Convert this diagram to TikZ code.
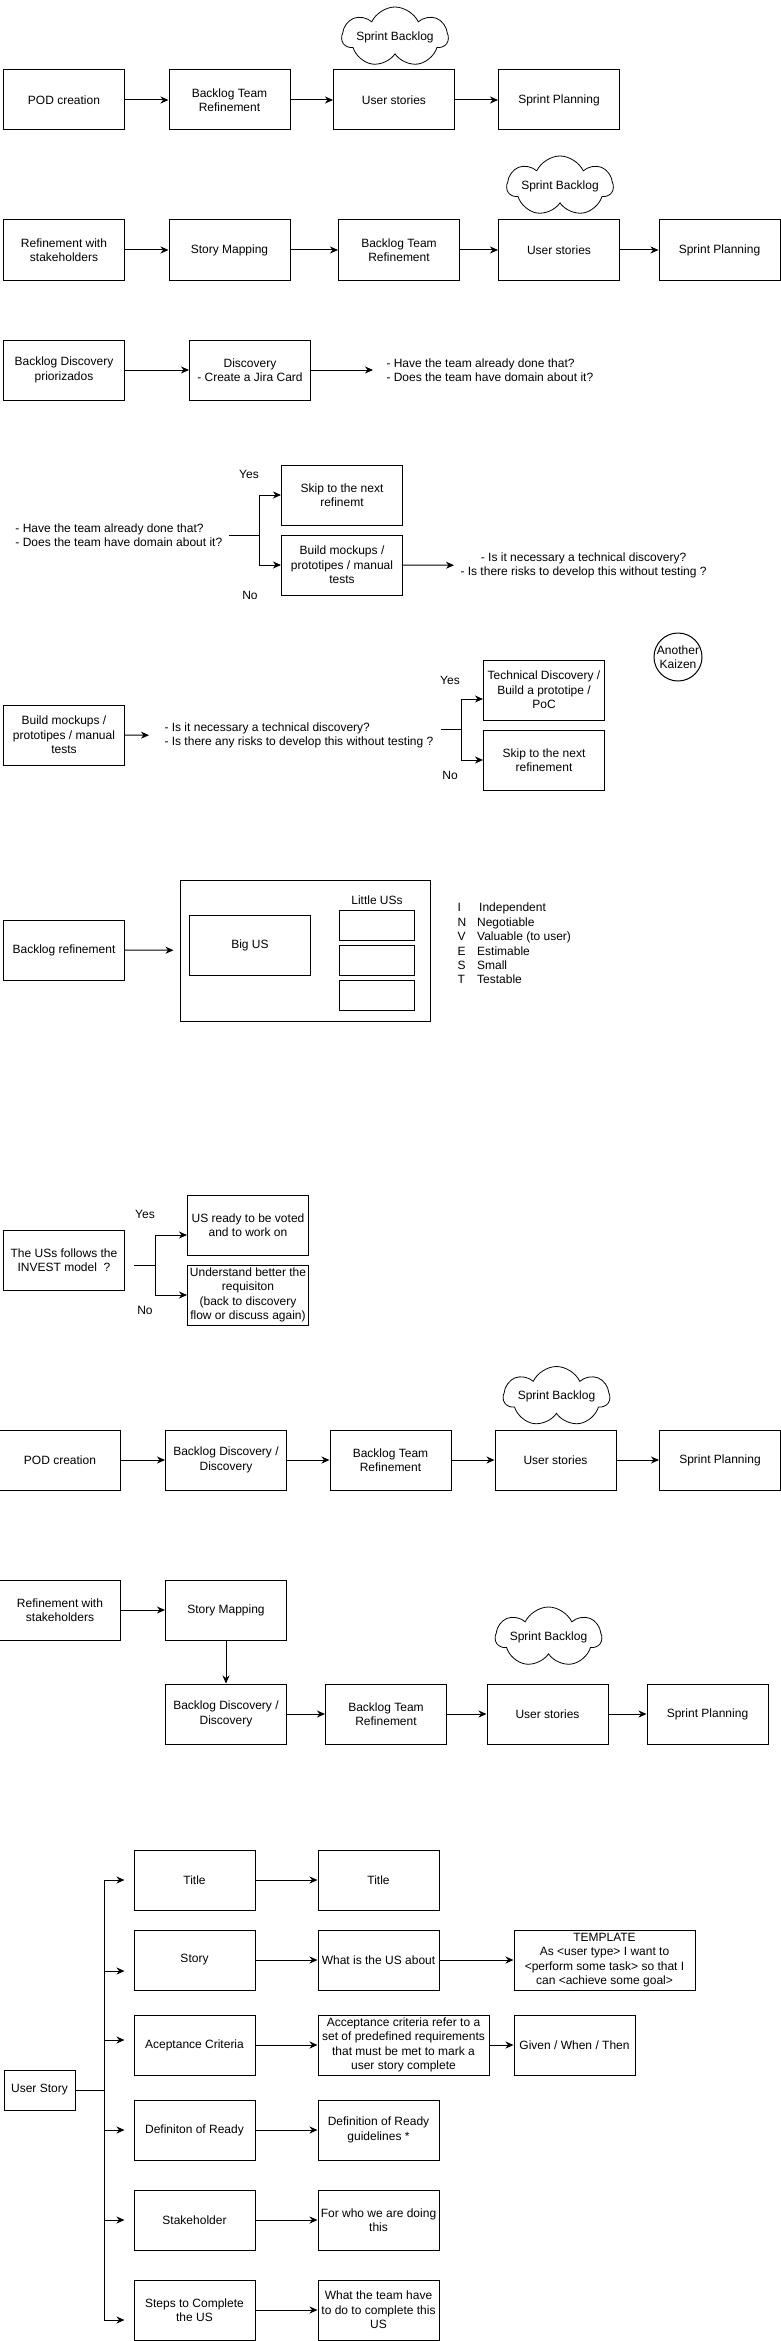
\documentclass[tikz,border=0pt]{standalone}
\usepackage{fontspec}
\setmainfont{Liberation Sans}
\usepackage{tikz}
\usetikzlibrary{arrows.meta, shapes.symbols}

\newcommand{\cloudtext}[1]{\makebox[40pt][c]{#1}}

\begin{document}
\begin{tikzpicture}[x=1pt, y=-1pt, line width=1pt,
		font=\fontsize{12}{14.4}\selectfont,
		box/.style={draw, minimum width=121pt, minimum height=60pt, align=center, inner sep=2pt},
		cloudy/.style={draw, cloud, cloud puffs=7, cloud puff arc=130, aspect=1.8, minimum width=106pt, minimum height=60pt, inner sep=0pt, line width=0.8pt},
		arr/.style={-{Stealth[length=8pt, width=7pt, inset=2.5pt]}}]
		\useasboundingbox[fill=white] (0,0) rectangle (780,2341);

		% Flow 1
		\node[box] (pod1) at (64,100) {POD creation};
		\node[box] (btr1) at (229.5,100) {Backlog Team\\Refinement};
		\node[box] (us1) at (394,100) {User stories};
		\node[box] (sp1) at (559,100) {Sprint Planning};
		\node[cloudy] (sb1) at (395,37) {\cloudtext{Sprint Backlog}};
		\draw[arr] (pod1) -- (btr1);
		\draw[arr] (btr1) -- (us1);
		\draw[arr] (us1) -- (sp1);

		% Flow 2
		\node[box] (rws2) at (64,250) {Refinement with\\stakeholders};
		\node[box] (sm2) at (229.5,250) {Story Mapping};
		\node[box] (btr2) at (399,250) {Backlog Team\\Refinement};
		\node[box] (us2) at (559,250) {User stories};
		\node[box] (sp2) at (719.5,250) {Sprint Planning};
		\node[cloudy] (sb2) at (560,186) {\cloudtext{Sprint Backlog}};
		\draw[arr] (rws2) -- (sm2);
		\draw[arr] (sm2) -- (btr2);
		\draw[arr] (btr2) -- (us2);
		\draw[arr] (us2) -- (sp2);

		% Discovery
		\node[box] (bd3) at (64,370) {Backlog Discovery\\priorizados};
		\node[box] (disc3) at (250,370) {Discovery\\- Create a Jira Card};
		\node[anchor=west, align=left, inner xsep=13pt] (q3) at (373,370) {- Have the team already done that?\\- Does the team have domain about it?};
		\draw[arr] (bd3) -- (disc3);
		\draw[arr] (disc3) -- (q3);

		% Decision: domain
		\node[anchor=west, align=left, inner sep=6pt] (q4) at (9,535.5) {- Have the team already done that?\\- Does the team have domain about it?};
		\coordinate (j4) at (259,535.5);
		\node[box] (skip4) at (342,495) {Skip to the next\\refinemt};
		\node[box] (build4) at (342,565) {Build mockups /\\prototipes / manual\\tests};
		\node (yes4) at (249,474) {Yes};
		\node (no4) at (250,595) {No};
		\node[anchor=west, align=center, inner sep=6pt] (q4b) at (454,565.5) {- Is it necessary a technical discovery?\\- Is there risks to develop this without testing ?};
		\draw (q4) -- (j4);
		\draw[arr] (j4) |- (skip4.west);
		\draw[arr] (j4) |- (build4.west);
		\draw[arr] (build4) -- (q4b);

		% Decision: technical discovery
		\node[box] (build5) at (64,735) {Build mockups /\\prototipes / manual\\tests};
		\node[anchor=west, align=left, inner xsep=15pt] (q5) at (149,735.5) {- Is it necessary a technical discovery?\\- Is there any risks to develop this without testing ?};
		\coordinate (s5) at (441,729);
		\coordinate (j5) at (461,729);
		\node[box] (tech5) at (544,690) {Technical Discovery /\\Build a prototipe /\\PoC};
		\node[box] (skip5) at (544,760) {Skip to the next\\refinement};
		\node (yes5) at (450,680) {Yes};
		\node (no5) at (450,775) {No};
		\node[draw, circle, minimum size=48pt, inner sep=-3pt, align=center] (kz5) at (678,657) {Another\\Kaizen};
		\draw[arr] (build5) -- (q5);
		\draw (s5) -- (j5);
		\draw[arr] (j5) |- ([yshift=-9pt]tech5.west);
		\draw[arr] (j5) |- (skip5.west);

		% Splitting
		\node[box] (brf6) at (64,950) {Backlog refinement};
		\node[draw, minimum width=250pt, minimum height=141pt] (grp6) at (305,950.5) {};
		\node[box] (big6) at (250,945.5) {Big US};
		\node (lbl6) at (377,900) {Little USs};
		\node[draw, minimum width=75pt, minimum height=30pt] (ls6a) at (376.5,925) {};
		\node[draw, minimum width=75pt, minimum height=30pt] (ls6b) at (376.5,960) {};
		\node[draw, minimum width=75pt, minimum height=30pt] (ls6c) at (376.5,995) {};
		\node[anchor=west, inner sep=6pt] (inv6) at (451,945) {\begin{tabular}{@{}l@{\hspace{11pt}}l@{}}
			I & \hspace{2pt}Independent\\
			N & Negotiable\\
			V & Valuable (to user)\\
			E & Estimable\\
			S & Small\\
			T & Testable
		\end{tabular}};
		\draw[arr, shorten >=6pt] (brf6) -- (grp6);

		% INVEST check
		\node[box] (inv7) at (64,1260) {The USs follows the\\INVEST model\ \ ?};
		\coordinate (s7) at (134,1265);
		\coordinate (j7) at (155,1265);
		\node[box] (ready7) at (248,1225) {US ready to be voted\\and to work on};
		\node[box] (und7) at (248,1295) {Understand better the\\requisiton\\(back to discovery\\flow or discuss again)};
		\node (yes7) at (145,1214) {Yes};
		\node (no7) at (145,1310) {No};
		\draw (s7) -- (j7);
		\draw[arr] (j7) |- ([yshift=-10pt]ready7.west);
		\draw[arr] (j7) |- (und7.west);

		% Flow 3
		\node[box] (pod8) at (60,1460) {POD creation};
		\node[box] (bdd8) at (226,1460) {Backlog Discovery /\\Discovery};
		\node[box] (btr8) at (390.5,1460) {Backlog Team\\Refinement};
		\node[box] (us8) at (555.5,1460) {User stories};
		\node[box] (sp8) at (720,1460) {Sprint Planning};
		\node[cloudy] (sb8) at (556.5,1396.5) {\cloudtext{Sprint Backlog}};
		\draw[arr] (pod8) -- (bdd8);
		\draw[arr] (bdd8) -- (btr8);
		\draw[arr] (btr8) -- (us8);
		\draw[arr] (us8) -- (sp8);

		% Flow 4
		\node[box] (rws9) at (60,1610) {Refinement with\\stakeholders};
		\node[box] (sm9) at (226,1610) {Story Mapping};
		\node[box] (bdd9) at (226,1714) {Backlog Discovery /\\Discovery};
		\node[box] (btr9) at (386,1714) {Backlog Team\\Refinement};
		\node[box] (us9) at (547.5,1714) {User stories};
		\node[box] (sp9) at (707.5,1714) {Sprint Planning};
		\node[cloudy] (sb9) at (548.5,1637) {\cloudtext{Sprint Backlog}};
		\draw[arr] (rws9) -- (sm9);
		\draw[arr] (sm9) -- (bdd9);
		\draw[arr] (bdd9) -- (btr9);
		\draw[arr] (btr9) -- (us9);
		\draw[arr] (us9) -- (sp9);

		% User story
		\node[draw, minimum width=71pt, minimum height=40pt] (us10) at (39.5,2090) {User Story};
		\coordinate (t10) at (104,2090);
		\node[box] (title10) at (194.5,1880) {Title};
		\node[box] (story10) at (194.5,1960) {Story};
		\node[box] (acc10) at (194.5,2045) {Aceptance Criteria};
		\node[box] (dor10) at (194.5,2130) {Definiton of Ready};
		\node[box] (stk10) at (194.5,2220) {Stakeholder};
		\node[box] (steps10) at (194.5,2310) {Steps to Complete\\the US};
		\node[box] (titled10) at (378.5,1880) {Title};
		\node[box] (what10) at (378.5,1960) {What is the US about};
		\node[box, minimum width=171pt] (accd10) at (403.5,2045) {Acceptance criteria refer to a\\set of predefined requirements\\that must be met to mark a\\user story complete};
		\node[box] (dord10) at (378.5,2130) {Definition of Ready\\guidelines *};
		\node[box] (stkd10) at (378.5,2220) {For who we are doing\\this};
		\node[box] (stepsd10) at (378.5,2310) {What the team have\\to do to complete this\\US};
		\node[box, minimum width=181pt] (tmpl10) at (604.5,1960) {TEMPLATE\\As <user type> I want to\\<perform some task> so that I\\can <achieve some goal>};
		\node[box] (given10) at (574.5,2045) {Given / When / Then};
		\draw (us10) -- (t10);
		\draw (title10.west -| t10) -- ([yshift=-10pt]steps10.west -| t10);
		\draw[arr, shorten >=9pt] (title10.west -| t10) -- (title10.west);
		\draw[arr, shorten >=9pt] ([yshift=-11pt]story10.west -| t10) -- ([yshift=-11pt]story10.west);
		\draw[arr, shorten >=9pt] ([yshift=5pt]acc10.west -| t10) -- ([yshift=5pt]acc10.west);
		\draw[arr, shorten >=9pt] (dor10.west -| t10) -- (dor10.west);
		\draw[arr, shorten >=9pt] (stk10.west -| t10) -- (stk10.west);
		\draw[arr, shorten >=9pt] ([yshift=-10pt]steps10.west -| t10) -- ([yshift=-10pt]steps10.west);
		\draw[arr] (title10) -- (titled10);
		\draw[arr] (story10) -- (what10);
		\draw[arr] (what10) -- (tmpl10);
		\draw[arr] (acc10) -- (accd10);
		\draw[arr] (accd10) -- (given10);
		\draw[arr] (dor10) -- (dord10);
		\draw[arr] (stk10) -- (stkd10);
		\draw[arr] (steps10) -- (stepsd10);
	\end{tikzpicture}
\end{document}
